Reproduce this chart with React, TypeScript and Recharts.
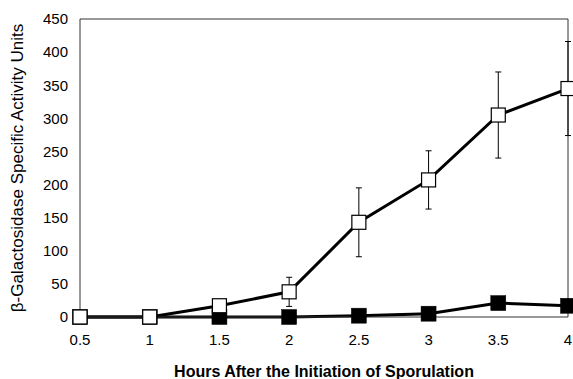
import React from 'react';
import { ComposedChart, Line, XAxis, YAxis, ErrorBar, ReferenceLine } from 'recharts';

const hours = [0.5, 1, 1.5, 2, 2.5, 3, 3.5, 4];
const openValues = [0, 0, 17, 38, 143, 207, 305, 345];
const openErrors = [0, 0, 0, 22, 52, 44, 65, 71];
const filledValues = [0, 0, 0, 0, 2, 5, 21, 17];
const filledErrors = [0, 0, 0, 0, 0, 0, 9, 0];
const xTicks = [0.5, 1, 1.5, 2, 2.5, 3, 3.5, 4];
const yTicks = [0, 50, 100, 150, 200, 250, 300, 350, 400, 450];

const data = hours.map((h, i) => ({
  h,
  open: openValues[i],
  openErr: openErrors[i],
  filled: filledValues[i],
  filledErr: filledErrors[i],
}));

const FONT = '"Liberation Sans", Arial, sans-serif';

const OpenSquare = (props: any) => {
  const { cx, cy } = props;
  if (cx == null || cy == null) return null;
  return <rect x={cx - 7} y={cy - 7} width={14} height={14} fill="#fff" stroke="#000" strokeWidth={1.2} />;
};

const FilledSquare = (props: any) => {
  const { cx, cy } = props;
  if (cx == null || cy == null) return null;
  return <rect x={cx - 7.5} y={cy - 7.5} width={15} height={15} fill="#000" stroke="#000" strokeWidth={0.5} />;
};

export default function App() {
  return (
    <div style={{ position: 'absolute', left: 0, top: 0, width: 573, height: 379, background: '#fff' }}>
      <ComposedChart width={573} height={379} data={data} margin={{ top: 19, right: 5, bottom: 0, left: 0 }}>
        <XAxis
          dataKey="h"
          type="number"
          domain={[0.5, 4]}
          ticks={xTicks}
          tickLine={false}
          axisLine={{ stroke: '#333', strokeWidth: 1 }}
          tick={{ fill: '#000', fontSize: 15, fontFamily: FONT }}
          tickMargin={11}
          height={62}
          label={{
            value: 'Hours After the Initiation of Sporulation',
            position: 'insideBottom',
            offset: 2,
            style: { fill: '#000', fontSize: 16, fontWeight: 'bold', fontFamily: FONT },
          }}
        />
        <YAxis
          type="number"
          domain={[0, 450]}
          ticks={yTicks}
          tickLine={false}
          axisLine={{ stroke: '#333', strokeWidth: 1 }}
          tick={{ fill: '#000', fontSize: 15, fontFamily: FONT }}
          tickMargin={6}
          width={80}
          label={{
            value: 'β-Galactosidase Specific Activity Units',
            angle: -90,
            position: 'insideLeft',
            offset: 17,
            style: { fill: '#000', fontSize: 17, fontFamily: FONT, textAnchor: 'middle' },
          }}
        />
        <ReferenceLine y={450} stroke="#333" strokeWidth={1} ifOverflow="visible" />
        <ReferenceLine x={4} stroke="#333" strokeWidth={1} ifOverflow="visible" />
        <Line
          dataKey="filled"
          stroke="#000"
          strokeWidth={3}
          isAnimationActive={false}
          dot={<FilledSquare />}
          activeDot={false}
        >
          <ErrorBar dataKey="filledErr" width={3} stroke="#000" strokeWidth={1} direction="y" />
        </Line>
        <Line
          dataKey="open"
          stroke="#000"
          strokeWidth={3}
          isAnimationActive={false}
          dot={<OpenSquare />}
          activeDot={false}
        >
          <ErrorBar dataKey="openErr" width={3} stroke="#000" strokeWidth={1} direction="y" />
        </Line>
      </ComposedChart>
    </div>
  );
}
